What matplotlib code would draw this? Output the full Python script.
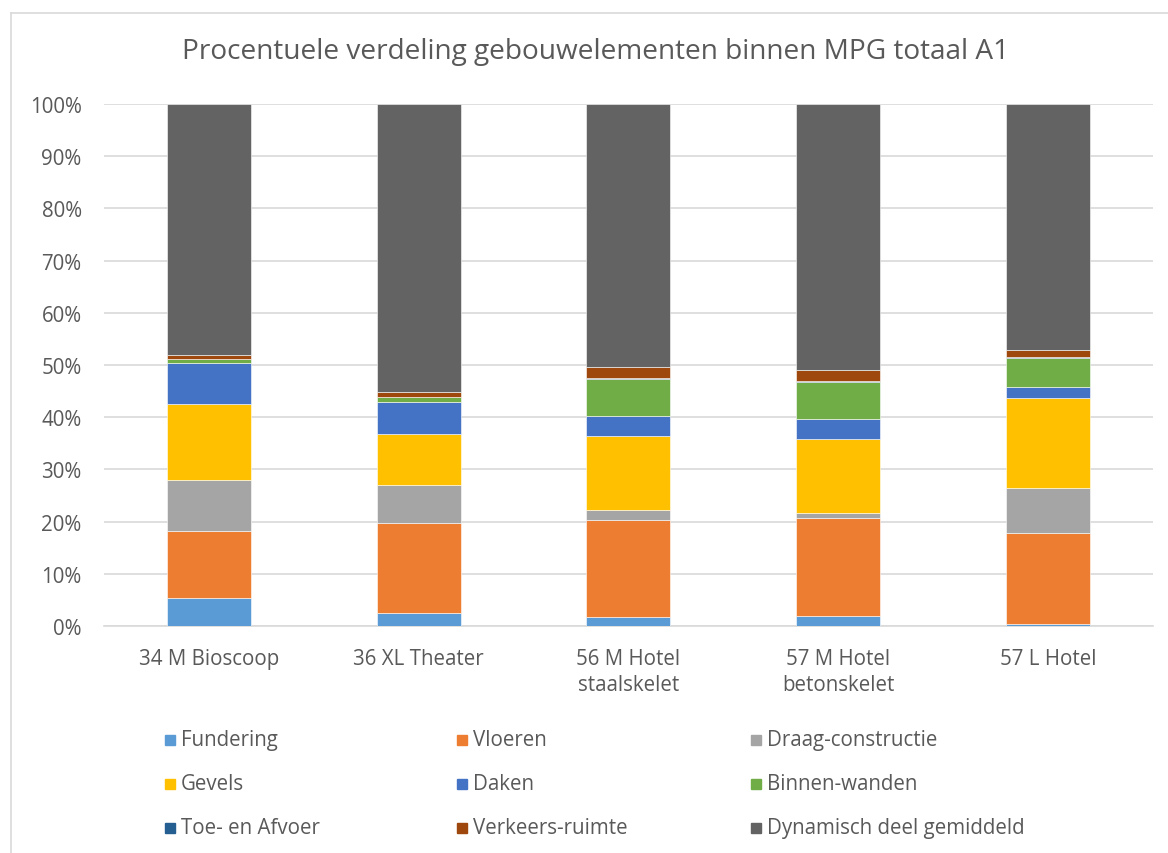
"""Procentuele verdeling gebouwelementen binnen MPG totaal A1"""
import numpy as np
import matplotlib
matplotlib.use("Agg")
import matplotlib.pyplot as plt
from matplotlib.patches import Rectangle
from matplotlib.lines import Line2D
from matplotlib.ticker import PercentFormatter

categories = ["34 M Bioscoop", "36 XL Theater", "56 M Hotel\nstaalskelet",
              "57 M Hotel\nbetonskelet", "57 L Hotel"]

# percentages per element
fundering = [5.3, 2.4, 1.8, 1.9, 0.4]
vloeren = [12.9, 17.3, 18.6, 18.7, 17.4]
draag = [9.7, 7.4, 1.8, 1.0, 8.7]
gevels = [14.6, 9.7, 14.2, 14.2, 17.2]
daken = [7.9, 6.2, 3.8, 3.8, 2.0]
binnen = [0.7, 0.8, 7.2, 7.2, 5.7]
toe_afvoer = [0.05, 0.05, 0.05, 0.05, 0.05]
verkeers = [0.8, 0.9, 2.1, 2.2, 1.4]
dynamisch = [48.05, 55.25, 50.45, 50.95, 47.15]

series = [
    ("Fundering", fundering, "#5B9BD5"),
    ("Vloeren", vloeren, "#ED7D31"),
    ("Draag-constructie", draag, "#A5A5A5"),
    ("Gevels", gevels, "#FFC000"),
    ("Daken", daken, "#4472C4"),
    ("Binnen-wanden", binnen, "#70AD47"),
    ("Toe- en Afvoer", toe_afvoer, "#255E91"),
    ("Verkeers-ruimte", verkeers, "#9E480E"),
    ("Dynamisch deel gemiddeld", dynamisch, "#636363"),
]

TEXT = "#595959"
GRID = "#D9D9D9"
plt.rcParams["font.family"] = ["Open Sans", "DejaVu Sans"]

fig = plt.figure(figsize=(11.68, 8.54), dpi=100)
ax = fig.add_axes([0.089, 0.2658, 0.898, 0.6112])

# normalise to 100% stacked
totals = np.sum([s[1] for s in series], axis=0)
x = np.arange(len(categories))
bottom = np.zeros(len(categories))
for name, vals, col in series:
    share = np.array(vals) / totals * 100
    ax.bar(x, share, 0.4, bottom=bottom, color=col, label=name,
           edgecolor="white", linewidth=0.4, zorder=3)
    bottom += share

ax.set_xlim(-0.5, len(categories) - 0.5)
ax.set_ylim(0, 100)
ax.set_yticks(np.arange(0, 101, 10))
ax.yaxis.set_major_formatter(PercentFormatter(decimals=0))
ax.grid(axis="y", color=GRID, linewidth=1.2, zorder=0)
for sp in ["top", "right", "left"]:
    ax.spines[sp].set_visible(False)
ax.spines["bottom"].set_color(GRID)
ax.spines["bottom"].set_linewidth(1.2)
ax.tick_params(axis="both", length=0, colors=TEXT, labelsize=14.8)
ax.tick_params(axis="y", pad=16)
ax.tick_params(axis="x", pad=16)
ax.set_xticks(x)
ax.set_xticklabels(categories, linespacing=1.3)

fig.text(0.51, 0.939, "Procentuele verdeling gebouwelementen binnen MPG totaal A1",
         ha="center", va="center", fontsize=20.2, color=TEXT)

# legend, row by row in three columns
col_x = [170, 462, 756]
row_y = [741, 785, 829]
W, H = 1168.0, 854.0
for i, (name, vals, col) in enumerate(series):
    cx = col_x[i % 3]
    cy = row_y[i // 3]
    fig.patches.append(Rectangle(((cx - 5) / W, 1 - (cy + 5) / H), 10 / W, 10 / H,
                                 transform=fig.transFigure, color=col))
    fig.text((cx + 11) / W, 1 - cy / H, name, ha="left", va="center",
             fontsize=14.8, color=TEXT)

# chart border (only left and top visible)
fig.add_artist(Line2D([11 / W, 11 / W], [0, 1 - 14 / H], color=GRID,
                      linewidth=1.2, transform=fig.transFigure))
fig.add_artist(Line2D([11 / W, 1], [1 - 14 / H, 1 - 14 / H], color=GRID,
                      linewidth=1.2, transform=fig.transFigure))

fig.savefig("out.png", dpi=100, facecolor="white")
